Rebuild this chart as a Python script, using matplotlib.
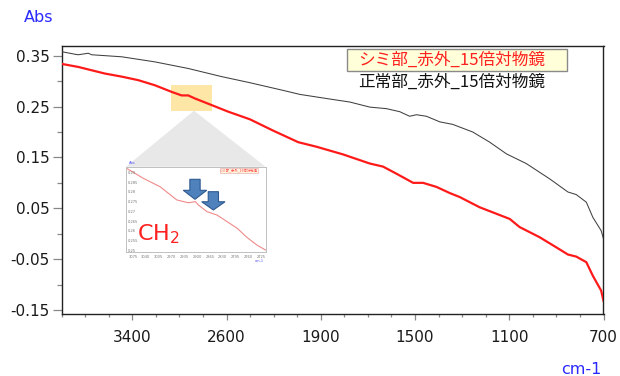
import numpy as np
import matplotlib
matplotlib.use("Agg")
import matplotlib.pyplot as plt
from matplotlib.patches import Polygon, Rectangle
from matplotlib.ticker import FixedLocator, FixedFormatter

# ---------------- data ----------------
normal_wn = [4000, 3887, 3859, 3774, 3746, 3491, 3209, 2926, 2642, 2402, 2122, 1989,
             1849, 1777, 1692, 1622, 1565, 1523, 1494, 1452, 1395, 1340, 1255, 1183,
             1112, 1028, 929, 851, 816, 773, 745, 710, 700]
normal_abs = [0.358, 0.353, 0.352, 0.355, 0.352, 0.348, 0.338, 0.325, 0.309, 0.297, 0.282, 0.274,
              0.264, 0.259, 0.249, 0.246, 0.240, 0.231, 0.234, 0.231, 0.220, 0.215, 0.200, 0.180,
              0.157, 0.138, 0.108, 0.082, 0.077, 0.062, 0.032, 0.006, -0.010]

stain_wn = [4000, 3859, 3633, 3491, 3350, 3209, 3067, 2982, 2926, 2869, 2727, 2586, 2402,
            2207, 1996, 1918, 1806, 1692, 1636, 1579, 1508, 1466, 1409, 1353, 1310, 1226,
            1098, 1056, 971, 900, 851, 816, 773, 745, 710, 700]
stain_abs = [0.334, 0.328, 0.315, 0.309, 0.302, 0.292, 0.279, 0.272, 0.272, 0.266, 0.253, 0.240, 0.225,
             0.203, 0.180, 0.171, 0.156, 0.138, 0.132, 0.118, 0.100, 0.100, 0.092, 0.080, 0.072, 0.052,
             0.029, 0.013, -0.007, -0.027, -0.041, -0.045, -0.056, -0.083, -0.112, -0.132]

inset_wn = [3078, 3035, 2992, 2949, 2919, 2901, 2893, 2871, 2845, 2819, 2793, 2768, 2742, 2720]
inset_abs = [0.2916, 0.2863, 0.2819, 0.2749, 0.2734, 0.2740, 0.2722, 0.2687, 0.2669, 0.2634,
             0.2599, 0.2551, 0.2510, 0.2484]

x_major = [3400, 2600, 1900, 1500, 1100, 700]
y_major = [0.35, 0.25, 0.15, 0.05, -0.05, -0.15]
y_labels = ["0.35", "0.25", "0.15", "0.05", "-0.05", "-0.15"]

inset_xlabels = ["3075", "3040", "3005", "2970", "2935", "2900", "2865", "2830", "2795", "2760", "2725"]
inset_ylabels = ["0.29", "0.285", "0.28", "0.275", "0.27", "0.265", "0.26", "0.255", "0.25"]

label_stain = "シミ部_赤外_15倍対物鏡"
label_normal = "正常部_赤外_15倍対物鏡"
highlight_x = (3070, 2720)
highlight_y = (0.241, 0.292)

# ---------------- figure ----------------
W, H = 620, 376
fig = plt.figure(figsize=(W / 100, H / 100), dpi=100)

def fx(x):
    return x / W

def fy(y):
    return 1 - y / H

L, R, T, B = 61.7, 603.5, 45.6, 314.0
ax = fig.add_axes([fx(L), fy(B), (R - L) / W, (B - T) / H])

def fwd(x):
    x = np.asarray(x, dtype=float)
    return np.where(x <= 2000, x / 400.0, 5 + (x - 2000) / 800.0)

def inv(u):
    u = np.asarray(u, dtype=float)
    return np.where(u <= 5, u * 400.0, 2000 + (u - 5) * 800.0)

ax.set_xscale('function', functions=(fwd, inv))
ax.set_xlim(4000, 700)
ax.set_ylim(-0.158, 0.370)

ax.plot(normal_wn, normal_abs, color='#404040', lw=0.75, zorder=3)
ax.plot(stain_wn, stain_abs, color='#ff1a1a', lw=1.6, zorder=4)

# highlight
hx0, hx1 = highlight_x
ax.add_patch(Rectangle((hx0, highlight_y[0]), hx1 - hx0, highlight_y[1] - highlight_y[0],
                       facecolor='#fde6a6', edgecolor='none', zorder=1))

# ticks
ax.xaxis.set_major_locator(FixedLocator(x_major))
ax.xaxis.set_major_formatter(FixedFormatter([str(v) for v in x_major]))
u_minor = [1.75 + 0.25 * k for k in range(24) if k % 4 != 0]
ax.xaxis.set_minor_locator(FixedLocator(list(inv(u_minor))))
ax.yaxis.set_major_locator(FixedLocator(y_major))
ax.yaxis.set_major_formatter(FixedFormatter(y_labels))
ax.yaxis.set_minor_locator(FixedLocator([0.30, 0.20, 0.10, 0.0, -0.10]))

ax.tick_params(axis='both', which='major', labelsize=11, labelcolor='#1a1a1a', color='#888888', width=0.9)
ax.tick_params(axis='both', which='minor', color='#888888', width=0.9)
ax.tick_params(axis='x', which='major', length=4.5, pad=7)
ax.tick_params(axis='x', which='minor', length=2.5)
ax.tick_params(axis='y', which='major', length=6.5, pad=2)
ax.tick_params(axis='y', which='minor', length=3.5)
for s in ax.spines.values():
    s.set_color('#222222')
    s.set_linewidth(1.0)

# axis titles
fig.text(fx(24), fy(18), "Abs", color='#2a2aff', fontsize=11.5, ha='left', va='center')
fig.text(fx(602), fy(370), "cm-1", color='#2a2aff', fontsize=11.5, ha='right', va='center')

# legend
fig.patches.append(Rectangle((fx(347), fy(70.7)), (567 - 347) / W, (70.7 - 49) / H,
                             transform=fig.transFigure, facecolor='#ffffd9', edgecolor='#8a8a8a',
                             lw=1.0))
jp = ['Noto Sans CJK JP', 'DejaVu Sans']
fig.text(fx(545), fy(60), label_stain, color='#ff2020', fontsize=12, family=jp, ha='right', va='center')
fig.text(fx(545), fy(82.7), label_normal, color='#111111', fontsize=12, family=jp, ha='right', va='center')

# gray fan
fan = Polygon([(fx(194), fy(110.7)), (fx(126), fy(166.7)), (fx(265.5), fy(166.7))],
              closed=True, transform=fig.transFigure, facecolor='#e8e8e8', edgecolor='none',
              zorder=0.5, clip_on=False)
ax.add_patch(fan)

# inset
IL, IR, IT, IB = 126, 265.5, 166.7, 251.7
axi = fig.add_axes([fx(IL), fy(IB), (IR - IL) / W, (IB - IT) / H])
axi.plot(inset_wn, inset_abs, color='#f08a8a', lw=0.8)
axi.set_xlim(3080, 2720)
axi.set_ylim(0.2475, 0.2925)
axi.set_xticks([])
axi.set_yticks([])
for s in axi.spines.values():
    s.set_color('#c0c0c0')
    s.set_linewidth(0.7)
for i, lab in enumerate(inset_xlabels):
    fig.text(fx(IL + 7 + i * 12.8), fy(256.5), lab, fontsize=2.6, color='#777777', ha='center', va='center')
for i, lab in enumerate(inset_ylabels):
    fig.text(fx(127.5), fy(IT + 6 + i * 9.8), lab, fontsize=2.6, color='#777777', ha='left', va='center')
fig.text(fx(129), fy(163.5), "Abs", fontsize=2.6, color='#5555ff', ha='left', va='center')
fig.text(fx(IR - 2), fy(261.5), "cm-1", fontsize=2.6, color='#5555ff', ha='right', va='center')
fig.patches.append(Rectangle((fx(220), fy(172.7)), 38.3 / W, 4.4 / H, transform=fig.transFigure,
                             facecolor='#fff6e0', edgecolor='#e0a0a0', lw=0.4))
fig.text(fx(239), fy(170.5), label_stain, fontsize=2.4, color='#ff4040', family=jp, ha='center', va='center')

def down_arrow(x0, x1, y0, y1):
    w = x1 - x0
    cx = (x0 + x1) / 2
    sw = 0.22 * w
    yh = y0 + 0.55 * (y1 - y0)
    pts = [(cx - sw, y0), (cx + sw, y0), (cx + sw, yh), (x1, yh), (cx, y1), (x0, yh), (cx - sw, yh)]
    fig.patches.append(Polygon([(fx(a), fy(b)) for a, b in pts], closed=True,
                               transform=fig.transFigure, facecolor='#4f81bd',
                               edgecolor='#2f5a8f', lw=0.8))

down_arrow(183.3, 206.7, 179.3, 199.3)
down_arrow(201.7, 225.0, 191.7, 210.0)

fig.text(fx(137), fy(240), r"$\mathregular{CH_2}$", color='#ff2020', fontsize=16, ha='left', va='baseline')

fig.savefig("out.png", dpi=100)
